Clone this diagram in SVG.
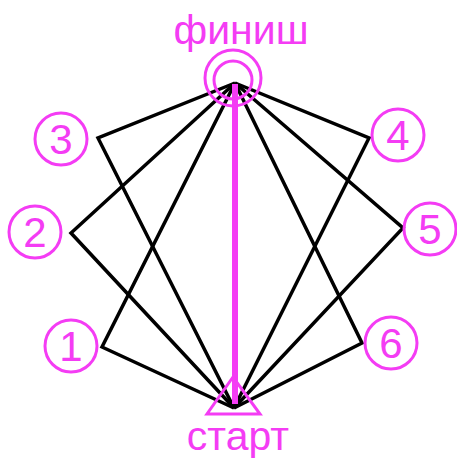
<svg xmlns="http://www.w3.org/2000/svg" width="457" height="459" viewBox="0 0 457 459">
<style>
.m{fill:none;stroke:#f43cf4;stroke-width:3}
.lbl{font-family:"Liberation Sans",Arial,sans-serif;fill:#f43cf4;text-anchor:middle}
.num{font-size:42px}
.big{font-size:41px}
.c{fill:none;stroke:#000;stroke-width:3.5;stroke-linejoin:miter}
</style>
<rect width="457" height="459" fill="#fff"/>
<g id="connectors">
<polyline class="c" points="235,83 98,138 234,408"/>
<polyline class="c" points="235,83 71,233 234,408"/>
<polyline class="c" points="235,83 102,347 234,408"/>
<polyline class="c" points="235,83 369,138 234,408"/>
<polyline class="c" points="235,83 403,228 234,408"/>
<polyline class="c" points="235,83 362,343 234,408"/>
<line x1="235" y1="84" x2="235" y2="404" stroke="#f43cf4" stroke-width="6"/>
</g>
<g id="finish">
<circle class="m" cx="233" cy="78" r="28"/>
<circle class="m" cx="233" cy="80" r="19"/>
<text class="lbl big" x="241" y="44">финиш</text>
</g>
<g id="start">
<polygon class="m" points="233,377 207,414 260,414"/>
<text class="lbl big" x="238" y="450">старт</text>
</g>
<g id="n1"><circle class="m" cx="71" cy="346" r="26"/><text class="lbl num" x="71" y="361">1</text></g>
<g id="n2"><circle class="m" cx="35" cy="232" r="26"/><text class="lbl num" x="35" y="247">2</text></g>
<g id="n3"><circle class="m" cx="61" cy="139" r="26"/><text class="lbl num" x="61" y="154">3</text></g>
<g id="n4"><circle class="m" cx="398" cy="135" r="26"/><text class="lbl num" x="398" y="150">4</text></g>
<g id="n5"><circle class="m" cx="430" cy="229" r="26"/><text class="lbl num" x="430" y="244">5</text></g>
<g id="n6"><circle class="m" cx="391" cy="343" r="26"/><text class="lbl num" x="391" y="358">6</text></g>
</svg>
